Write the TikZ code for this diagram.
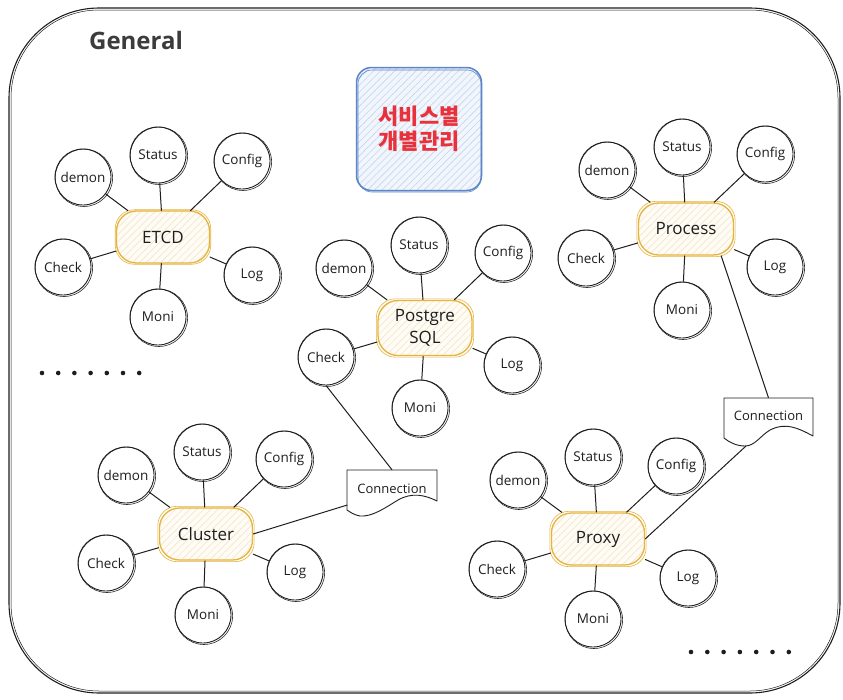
\documentclass[tikz,border=0pt]{standalone}
\usepackage{fontspec}
\setmainfont{Open Sans}
\newfontfamily\kofont{Noto Sans CJK KR}
\usetikzlibrary{patterns.meta,calc}
\definecolor{ink}{HTML}{1E1E1E}
\definecolor{gold}{HTML}{E6B33C}
\definecolor{cream}{HTML}{FFFCF5}
\definecolor{tanh}{HTML}{F0E2C4}
\definecolor{bluel}{HTML}{5A86C8}
\definecolor{bluef}{HTML}{F1F5FC}
\definecolor{blueh}{HTML}{C6D6EE}
\definecolor{kred}{HTML}{E8313A}
\definecolor{gtext}{HTML}{3C3C3C}
\begin{document}
\begin{tikzpicture}[x=1pt,y=-1pt,
  sat/.style={circle,draw=ink,line width=0.9pt,minimum size=56pt,inner sep=0pt,
    font=\fontsize{13.5}{15}\selectfont,text=ink},
  hub/.style={rectangle,rounded corners=20pt,draw=gold,line width=1.3pt,
    preaction={fill=cream},pattern={Lines[angle=45,distance=5pt,line width=0.5pt]},
    pattern color=tanh,minimum width=93pt,minimum height=52pt,inner sep=2pt,
    align=center,font=\fontsize{17}{22}\selectfont,text=ink},
  conn/.style={minimum width=89pt,minimum height=40pt,inner sep=0pt,
    font=\fontsize{13}{15}\selectfont,text=ink},
  connline/.style={draw=ink,line width=0.9pt,line join=round},
  link/.style={draw=ink,line width=1pt},
  sk/.style={draw=ink,line width=0.55pt},
]
\useasboundingbox (0,0) rectangle (843,699);
\fill[white] (0,0) rectangle (843,699);

% outer frame
\draw[ink,line width=1.1pt,rounded corners=90pt] (9,8) rectangle (840,693);
\draw[ink,line width=0.5pt,rounded corners=88pt] (11,10) rectangle (838,691);

\node[font=\fontsize{24}{28}\selectfont\bfseries,text=gtext] (general) at (136,40) {General};

% Korean box
\node[rectangle,rounded corners=15pt,draw=bluel,line width=1.5pt,
  preaction={fill=bluef},pattern={Lines[angle=45,distance=5pt,line width=0.6pt]},
  pattern color=blueh,minimum width=125pt,minimum height=123pt,align=center,
  font=\kofont\bfseries\fontsize{22}{25}\selectfont,text=kred] (kbox) at (419,129)
  {서비스별\\개별관리};
\draw[bluel,line width=0.6pt,rounded corners=14pt] (358,70) rectangle (481,192);

% ---------- ETCD ----------
\node[hub] (etcd) at (163,237) {ETCD};
\node[sat] (e-demon) at (83,177) {demon};
\node[sat] (e-status) at (158,155) {Status};
\node[sat] (e-config) at (242,161) {Config};
\node[sat] (e-check) at (63,267) {Check};
\node[sat] (e-log) at (252,275) {Log};
\node[sat] (e-moni) at (158,317) {Moni};

% ---------- PostgreSQL ----------
\node[hub,minimum width=94pt,minimum height=55pt] (pg) at (425,328) {Postgre\\SQL};
\node[sat] (p-demon) at (344,268) {demon};
\node[sat] (p-status) at (419,245) {Status};
\node[sat] (p-config) at (503,253) {Config};
\node[sat] (p-check) at (326,357) {Check};
\node[sat] (p-log) at (512,365) {Log};
\node[sat] (p-moni) at (420,408) {Moni};

% ---------- Process ----------
\node[hub,minimum width=95pt] (proc) at (686,229) {Process};
\node[sat] (r-demon) at (607,170) {demon};
\node[sat] (r-status) at (682,147) {Status};
\node[sat] (r-config) at (765,154) {Config};
\node[sat] (r-check) at (586,258) {Check};
\node[sat] (r-log) at (775,267) {Log};
\node[sat] (r-moni) at (682,310) {Moni};

% ---------- Cluster ----------
\node[hub] (cluster) at (206,534) {Cluster};
\node[sat] (c-demon) at (126,475) {demon};
\node[sat] (c-status) at (202,452) {Status};
\node[sat] (c-config) at (284,459) {Config};
\node[sat] (c-check) at (106,563) {Check};
\node[sat] (c-log) at (295,572) {Log};
\node[sat] (c-moni) at (203,615) {Moni};

% ---------- Proxy ----------
\node[hub] (proxy) at (598,539) {Proxy};
\node[sat] (x-demon) at (518,480) {demon};
\node[sat] (x-status) at (593,457) {Status};
\node[sat] (x-config) at (676,466) {Config};
\node[sat] (x-check) at (497,569) {Check};
\node[sat] (x-log) at (688,578) {Log};
\node[sat] (x-moni) at (593,619) {Moni};

% sketchy second strokes
\foreach \n in {e-demon,e-status,e-config,e-check,e-log,e-moni,
                p-demon,p-status,p-config,p-check,p-log,p-moni,
                r-demon,r-status,r-config,r-check,r-log,r-moni,
                c-demon,c-status,c-config,c-check,c-log,c-moni,
                x-demon,x-status,x-config,x-check,x-log,x-moni}{
  \draw[sk] ([shift={(0.9pt,-0.8pt)}]\n.center) circle[radius=28.7pt];
}
\foreach \n in {etcd,pg,proc,cluster,proxy}{
  \draw[gold,line width=0.6pt,rounded corners=19pt]
    ([shift={(-1pt,-1pt)}]\n.south west) rectangle ([shift={(1pt,1pt)}]\n.north east);
}

% spokes
\foreach \h/\p in {etcd/e,pg/p,proc/r,cluster/c,proxy/x}{
  \foreach \s in {demon,status,config,check,log,moni}{
    \draw[link] (\h) -- (\p-\s);
  }
}

% ---------- Connection boxes ----------
\node[conn] (conn1) at (768.5,418) {\raisebox{4pt}{Connection}};
\draw[connline] (724,398) -- (813,398) -- (813,436)
  .. controls (798,428) and (786,422) .. (770,430)
  .. controls (760,436) and (755,446) .. (745,446)
  .. controls (736,446) and (729,442) .. (724,438) -- cycle;
\coordinate (c1b) at (746,446);

\node[conn] (conn2) at (392,490) {\raisebox{2pt}{Connection}};
\draw[connline] (347,470) -- (437,470) -- (437,501)
  .. controls (425,495) and (412,492) .. (398,500)
  .. controls (385,508) and (372,517) .. (360,516)
  .. controls (354,515) and (350,512) .. (347,510) -- cycle;

\draw[link] ([xshift=-13pt]proc.south east) -- (conn1.north);
\draw[link] (c1b) -- (proxy.east);
\draw[link] (p-check.south) -- (conn2.north);
\draw[link] (cluster.east) -- ([yshift=-15pt]conn2.west);

% dots
\foreach \i in {0,...,6}{
  \fill[ink] (42+16.2*\i,373) circle[radius=2.3pt];
  \fill[ink] (691+16.3*\i,652) circle[radius=2.3pt];
}
\end{tikzpicture}
\end{document}
